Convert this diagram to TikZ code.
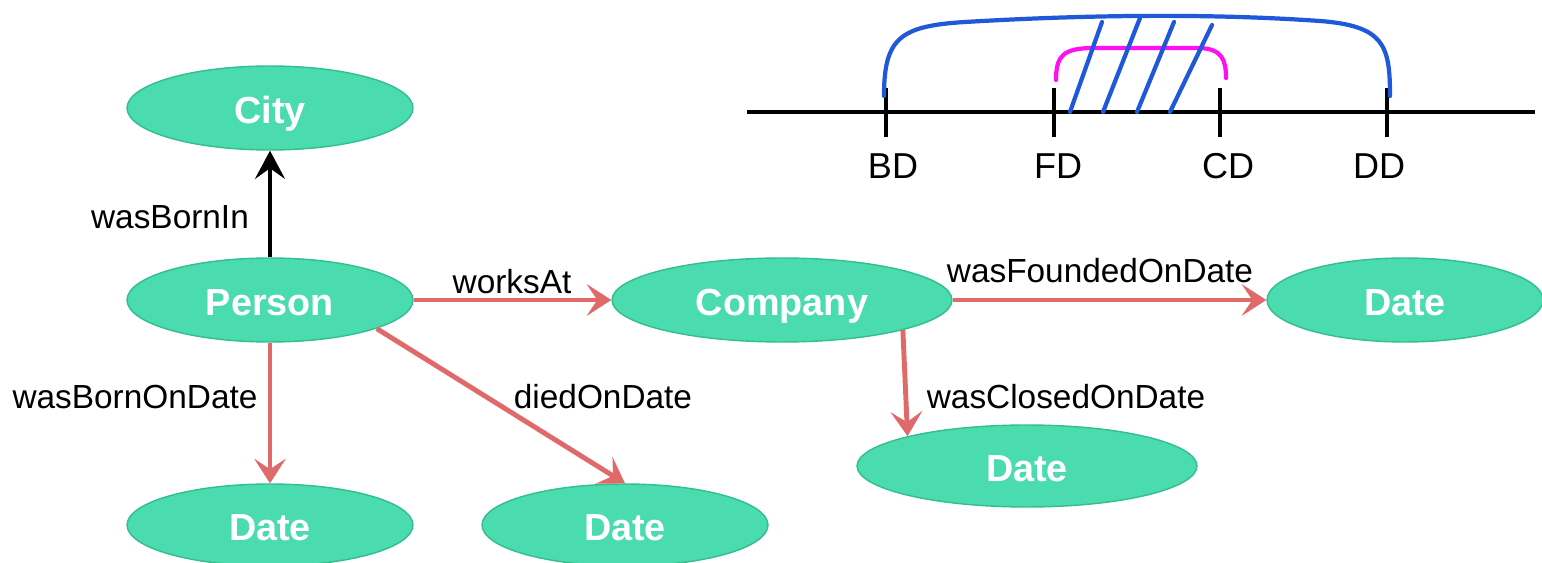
\documentclass[tikz,border=0pt]{standalone}
\usepackage{fontspec}
\setmainfont{Liberation Sans}
\usetikzlibrary{shapes.geometric,arrows.meta}
\definecolor{nodefill}{HTML}{4ADBAF}
\definecolor{nodeedge}{HTML}{33BE8E}
\definecolor{redarrow}{HTML}{E06A6A}
\definecolor{bluebr}{HTML}{1F58D8}
\definecolor{magbr}{HTML}{FF10F0}
\tikzset{
  ent/.style={ellipse, draw=nodeedge, line width=0.8pt, fill=nodefill, text=white,
    font=\fontsize{21.5}{26}\selectfont\bfseries, inner sep=0pt,
    text height=20pt, text depth=2pt,
    minimum width=5.72cm, minimum height=1.68cm},
  wident/.style={ent, minimum width=6.8cm},
  rel/.style={draw=redarrow, line width=2.8pt, -{Stealth[length=14pt, width=18pt, inset=6pt]}},
  blk/.style={draw=black, line width=2.8pt, -{Stealth[length=16pt, width=17pt, inset=6pt]}},
  lbl/.style={font=\fontsize{19}{23}\selectfont, text=black, inner sep=0pt},
  tl/.style={line width=2.4pt, black},
  tick/.style={font=\fontsize{20.5}{24}\selectfont, inner sep=0pt},
  brace/.style={line width=2.4pt, line cap=round},
}
\begin{document}
\begin{tikzpicture}[x=0.02cm, y=-0.02cm]
\useasboundingbox (0,0) rectangle (1542,563);
% nodes
\node[ent] (city) at (270,108) {City};
\node[ent] (person) at (270,300) {Person};
\node[wident] (company) at (782,300) {Company};
\node[ent, minimum width=5.52cm] (dateF) at (1405,300) {Date};
\node[wident, minimum height=1.64cm] (dateC) at (1027,466) {Date};
\node[ent, minimum height=1.64cm] (dateB) at (270,525) {Date};
\node[ent, minimum height=1.64cm] (dateD) at (625,525) {Date};
% connectors
\draw[blk] (person.north) -- (city.south);
\draw[rel] (person.east) -- (company.west);
\draw[rel] (company.east) -- (dateF.west);
\draw[rel] (company.-14) -- (dateC.166.5);
\draw[rel] (person.south) -- (dateB.north);
\draw[rel] (person.-15.6) -- (dateD.north);
% labels
\node[lbl] (l1) at (170,217) {wasBornIn};
\node[lbl] (l2) at (512,282) {worksAt};
\node[lbl] (l3) at (1100,271) {wasFoundedOnDate};
\node[lbl] (l4) at (1066,397) {wasClosedOnDate};
\node[lbl] (l5) at (135,397) {wasBornOnDate};
\node[lbl] (l6) at (603,397) {diedOnDate};
% timeline
\coordinate (tA) at (747,112);
\coordinate (tB) at (1535,112);
\draw[tl] (tA) -- (tB);
\foreach \x in {886,1054,1220,1387} \draw[tl] (\x,88) -- (\x,137);
\node[tick] (bd) at (893,166) {BD};
\node[tick] (fd) at (1058,166) {FD};
\node[tick] (cd) at (1228,166) {CD};
\node[tick] (dd) at (1379,166) {DD};
% brackets
\draw[brace, bluebr] (884,96) .. controls (884,38) and (900,26) .. (965,22)
  .. controls (1100,14) and (1220,14) .. (1320,21)
  .. controls (1384,26) and (1390,45) .. (1390,96);
\draw[brace, magbr] (1056,80) .. controls (1056,55) and (1064,49) .. (1090,48)
  -- (1200,48) .. controls (1222,49) and (1226,60) .. (1226,78);
\draw[brace, bluebr] (1070,112) -- (1102,22);
\draw[brace, bluebr] (1103,112) -- (1140,18);
\draw[brace, bluebr] (1137,112) -- (1174,22);
\draw[brace, bluebr] (1170,112) -- (1212,25);
\end{tikzpicture}
\end{document}
